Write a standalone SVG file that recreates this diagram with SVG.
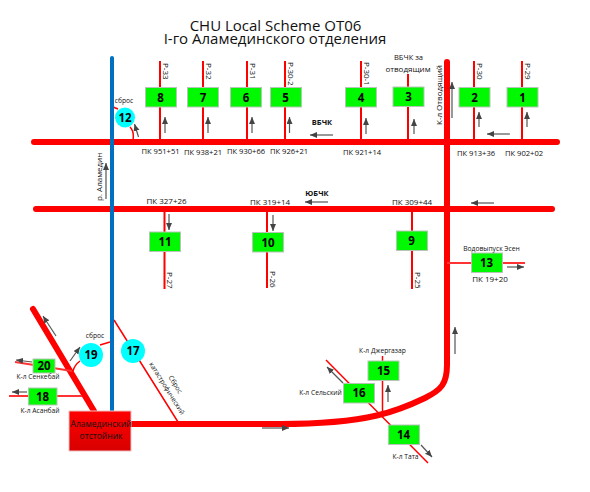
<svg xmlns="http://www.w3.org/2000/svg" width="590" height="492" viewBox="0 0 590 492">
<style>
text{font-family:"Open Sans","Noto Sans","Liberation Sans",sans-serif;fill:#111}
.t{font-size:15px;text-anchor:middle}
.l{font-size:8px;text-anchor:middle}
.x{font-size:6.700px;text-anchor:middle}
.b{font-weight:bold}
.n{font-size:11.500px;font-weight:bold;text-anchor:middle;fill:#000}
.g{fill:#00f800;stroke:#b8c4b8;stroke-width:1}
.c{fill:#0ff;stroke:none}
.th{fill:none;stroke:#f00;stroke-width:6;stroke-linecap:round}
.md{fill:none;stroke:#f33;stroke-width:2}
.s{fill:none;stroke:#f00;stroke-width:2}
.a{fill:none;stroke:#555;stroke-width:1.2;marker-end:url(#h)}
</style>
<defs>
<marker id="h" markerUnits="userSpaceOnUse" markerWidth="8" markerHeight="8" refX="7" refY="3" orient="auto"><path d="M0 0L7 3L0 6Z" fill="#444"/></marker>
<linearGradient id="r" x1="0" y1="0" x2="0" y2="1"><stop offset="0" stop-color="#f00"/><stop offset="1" stop-color="#d80000"/></linearGradient>
</defs>
<g id="connectors">
<path class="th" d="M34 142H557"/>
<path class="th" d="M36 209H552"/>
<path class="th" d="M447 62V365C447 384 441 390 425 398C400 410 370 424 280 424H130"/>
<path class="th" d="M33 309L94 411"/>
<path class="s" d="M160 61V142M203 61V142M247 61V142M285 61V142M361 61V142M408 74V142M474 61V142M522 61V142"/>
<path class="s" d="M164.500 209V289M267 209V288M412 209V289"/>
<path class="md" d="M447 263H525"/>
<path class="md" d="M15 362L72 371M9 396H82"/>
<path fill="none" stroke="#f00" stroke-width="1.500" d="M326 360L428 463M382.500 356V415M114 320L178 422M110 342L100 345M80 361C76 364 74 367 73 371M130 127C133 130 134 134 133 140M113 107L118 109"/>
<path fill="none" stroke="#0070c0" stroke-width="4" stroke-linecap="round" d="M112 58V411"/>
<path class="a" d="M138.500 137L134.500 124"/>
<path class="a" d="M165 133V117"/><path class="a" d="M208 133V117"/><path class="a" d="M252 133V117"/><path class="a" d="M289.500 133V117"/>
<path class="a" d="M366 134V118"/><path class="a" d="M414 134V119"/><path class="a" d="M479 127V112"/><path class="a" d="M527 127V112"/>
<path class="a" d="M452 118V82"/><path class="a" d="M333 135H310"/><path class="a" d="M510 134H487"/>
<path class="a" d="M106 199V163"/><path class="a" d="M169 214V230"/><path class="a" d="M273 215V231"/>
<path class="a" d="M494 203H471"/><path class="a" d="M328 202H305"/><path class="a" d="M507 267H524"/>
<path class="a" d="M56 336L43 316"/><path class="a" d="M70 361L80 347"/><path class="a" d="M32 362L16 360"/><path class="a" d="M27 392H12"/>
<path class="a" d="M262 428H289"/><path class="a" d="M455 354V327"/><path class="a" d="M388 402V385"/><path class="a" d="M343 383L327 367"/><path class="a" d="M421 445L432 457"/>
</g>
<g id="title"><text class="t" x="275.500" y="31">CHU Local Scheme OT06</text><text class="t" x="275" y="44">I-го Аламединского отделения</text></g>
<g id="n1"><rect class="g" x="507" y="87.500" width="31" height="19.500"/><text class="n" x="522.500" y="101.500">1</text></g>
<g id="n2"><rect class="g" x="459" y="87.500" width="31" height="19.500"/><text class="n" x="474.500" y="101.500">2</text></g>
<g id="n3"><rect class="g" x="393" y="87" width="31" height="19.500"/><text class="n" x="408.500" y="100.500">3</text></g>
<g id="n4"><rect class="g" x="345.500" y="87.500" width="31" height="19.500"/><text class="n" x="361" y="101.500">4</text></g>
<g id="n5"><rect class="g" x="270.500" y="87.500" width="31" height="19.500"/><text class="n" x="285.500" y="101.500">5</text></g>
<g id="n6"><rect class="g" x="230.500" y="87.500" width="31" height="19.500"/><text class="n" x="246" y="101.500">6</text></g>
<g id="n7"><rect class="g" x="187.500" y="87.500" width="31" height="19.500"/><text class="n" x="203" y="101.500">7</text></g>
<g id="n8"><rect class="g" x="145.500" y="87.500" width="31" height="19.500"/><text class="n" x="160.500" y="101.500">8</text></g>
<g id="n9"><rect class="g" x="396.500" y="231" width="31" height="19.500"/><text class="n" x="411.500" y="245">9</text></g>
<g id="n10"><rect class="g" x="252.500" y="232.500" width="31" height="19.500"/><text class="n" x="268" y="246.500">10</text></g>
<g id="n11"><rect class="g" x="149.500" y="232" width="31" height="19.500"/><text class="n" x="165" y="246">11</text></g>
<g id="n12"><circle class="c" cx="125" cy="117.500" r="10"/><text class="n" x="125" y="121.500">12</text></g>
<g id="n13"><rect class="g" x="471.500" y="253" width="31" height="19.500"/><text class="n" x="486.500" y="267">13</text></g>
<g id="n14"><rect class="g" x="388.500" y="425" width="31" height="19.500"/><text class="n" x="403.500" y="438.500">14</text></g>
<g id="n15"><rect class="g" x="368" y="361" width="31" height="19.500"/><text class="n" x="383.500" y="374.500">15</text></g>
<g id="n16"><rect class="g" x="343.500" y="383.500" width="31" height="19.500"/><text class="n" x="359" y="397">16</text></g>
<g id="n17"><circle class="c" cx="133" cy="351" r="12"/><text class="n" x="133" y="355">17</text></g>
<g id="n18"><rect class="g" x="28.500" y="388" width="28.500" height="17"/><text class="n" x="42.500" y="400.500">18</text></g>
<g id="n19"><circle class="c" cx="91" cy="355" r="12"/><text class="n" x="91" y="359">19</text></g>
<g id="n20"><rect class="g" x="33" y="359" width="22" height="14"/><text class="n" x="44" y="370">20</text></g>
<g id="reservoir"><rect x="69" y="411" width="62" height="40" fill="url(#r)" stroke="#f0c0c0" stroke-width="1"/><text class="l" x="101" y="427" style="font-size:8.500px">Аламединский</text><text class="l" x="101" y="439" style="font-size:8.500px">отстойник</text></g>
<g id="labels">
<text class="l" transform="translate(163 63) rotate(90)" style="text-anchor:start">Р-33</text>
<text class="l" transform="translate(206 63) rotate(90)" style="text-anchor:start">Р-32</text>
<text class="l" transform="translate(250 63) rotate(90)" style="text-anchor:start">Р-31</text>
<text class="l" transform="translate(288 62) rotate(90)" style="text-anchor:start">Р-30-2</text>
<text class="l" transform="translate(364 62) rotate(90)" style="text-anchor:start">Р-30-1</text>
<text class="l" transform="translate(477 63) rotate(90)" style="text-anchor:start">Р-30</text>
<text class="l" transform="translate(525 63) rotate(90)" style="text-anchor:start">Р-29</text>
<text class="l" transform="translate(167 272) rotate(90)" style="text-anchor:start">Р-27</text>
<text class="l" transform="translate(270 271) rotate(90)" style="text-anchor:start">Р-26</text>
<text class="l" transform="translate(415 272) rotate(90)" style="text-anchor:start">Р-25</text>
<text class="x" x="124" y="103">сброс</text>
<text class="x" x="95" y="338">сброс</text>
<text class="l" x="160.500" y="154" style="font-size:7.600px">ПК 951+51</text><text class="l" x="203" y="155" style="font-size:7.600px">ПК 938+21</text><text class="l" x="246" y="154" style="font-size:7.600px">ПК 930+66</text><text class="l" x="289" y="154" style="font-size:7.600px">ПК 926+21</text>
<text class="l" x="362" y="155" style="font-size:7.600px">ПК 921+14</text><text class="l" x="476" y="156" style="font-size:7.600px">ПК 913+36</text><text class="l" x="524" y="156" style="font-size:7.600px">ПК 902+02</text>
<text class="l" x="166.500" y="204">ПК 327+26</text><text class="l" x="270" y="205">ПК 319+14</text><text class="l" x="412" y="205">ПК 309+44</text>
<text class="l" x="490" y="282">ПК 19+20</text>
<text class="l b" x="322" y="125" style="font-size:7.500px">ВБЧК</text><text class="l b" x="317" y="196" style="font-size:7.500px">ЮБЧК</text>
<text class="l" x="408.500" y="60" style="font-size:7.500px">ВБЧК за</text><text class="l" x="408" y="72">отводящим</text>
<text class="l" transform="translate(442 125) rotate(-90)" style="text-anchor:start">К-л Отводящий</text>
<text class="l" transform="translate(102 201) rotate(-90)" style="text-anchor:start">р. Аламедин</text>
<text class="x" x="491.500" y="251">Водовыпуск Эсен</text>
<text class="x" x="38" y="379">К-л Сенкебай</text><text class="x" x="40" y="413">К-л Асанбай</text>
<text class="x" x="382.500" y="353">К-л Джергазар</text><text class="x" x="320.500" y="395">К-л Сельский</text><text class="x" x="405.500" y="459">К-л Тата</text>
<text class="x" transform="translate(173.500 385.600) rotate(58)">Сброс</text>
<text class="x" transform="translate(165 389.600) rotate(58)">катастрофический</text>
</g>
</svg>
